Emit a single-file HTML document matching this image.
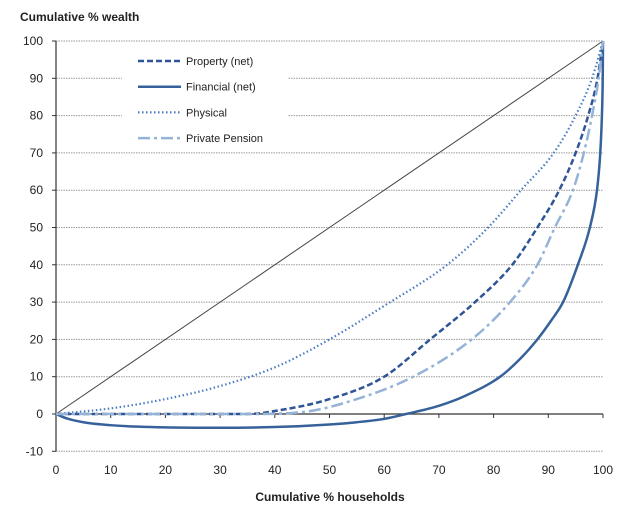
<!DOCTYPE html>
<html><head><meta charset="utf-8"><style>
body{margin:0;background:#fff}
svg text{font-family:"Liberation Sans",sans-serif;fill:#222}
</style></head><body>
<svg id="chart" width="644" height="522" viewBox="0 0 644 522" xmlns="http://www.w3.org/2000/svg">
<text x="20" y="21" font-size="12" font-weight="bold">Cumulative % wealth</text>
<text x="330" y="501" font-size="12" font-weight="bold" text-anchor="middle">Cumulative % households</text>
<g id="grid"></g>
<g id="axes"></g>
<g id="series"></g>
<g id="legend"></g>
</svg>
<script>
const xTicks=[0,10,20,30,40,50,60,70,80,90,100];
const yTicks=[-10,0,10,20,30,40,50,60,70,80,90,100];
const equalityX=[0,100];
const equalityY=[0,100];
const physicalX=[0,10,20,30,40,50,60,71.5,79,85,91,95,98,100];
const physicalY=[0,1.5,4,7.5,12.5,20,29,40,50,60,70,80,90,100];
const propertyX=[0,35,40,50,60,68.4,76.6,83.4,88,92,95,97.3,99,100];
const propertyY=[0,0,0.8,4,10,20,30,40,50,60,70,80,90,100];
const pensionX=[0,35,45,55,65.3,76,83,88,91.2,94.5,96.5,98,99.2,100];
const pensionY=[0,0,0.5,4,10,20,30,40,50,60,70,80,90,100];
const financialX=[0,2,5,10,15,20,30,40,50,55,60,64,70,75,81.2,85,88,90.5,92.7,95.4,97.6,98.9,99.5,99.8,99.95,100];
const financialY=[0,-1.2,-2.2,-3,-3.4,-3.6,-3.7,-3.5,-2.8,-2.2,-1.3,0,2.2,5,10,15,20,25,30,40,50,60,70,80,90,100];
const legendLabels=["Property (net)","Financial (net)","Physical","Private Pension"];

const NS="http://www.w3.org/2000/svg";
const X=v=>56+5.47*v, Y=v=>414-3.73*v;
function mk(t,a,p){const e=document.createElementNS(NS,t);for(const k in a)e.setAttribute(k,a[k]);p.appendChild(e);return e;}
const grid=document.getElementById('grid'),axes=document.getElementById('axes'),ser=document.getElementById('series'),leg=document.getElementById('legend');
yTicks.forEach(v=>{
  if(v!==0){const l=mk('line',{x1:X(0),x2:X(100),y1:Y(v),y2:Y(v),stroke:'#999','stroke-width':1,'stroke-dasharray':'1.5,1'},grid);
  
  }
  const tk=mk('line',{x1:X(0)-4,x2:X(0),y1:Y(v),y2:Y(v),stroke:'#333'},axes);
  
  
  const t=mk('text',{x:43,y:Y(v)+4,'font-size':12,'text-anchor':'end'},axes);t.textContent=v;
  
  
});
xTicks.forEach(v=>{
  const tk=mk('line',{x1:X(v),x2:X(v),y1:Y(0),y2:Y(0)+4,stroke:'#333'},axes);
  
  
  const t=mk('text',{x:X(v),y:474,'font-size':12,'text-anchor':'middle'},axes);t.textContent=v;
  
  
});
const ya=mk('line',{x1:X(0),x2:X(0),y1:Y(100),y2:Y(-10),stroke:'#333','stroke-width':1.2},axes);


const xa=mk('line',{x1:X(0),x2:X(100),y1:Y(0),y2:Y(0),stroke:'#333','stroke-width':1.2},axes);


// monotone cubic (Fritsch-Carlson) interpolation, sampled densely
function path(xs,ys){
  const n=xs.length;
  if(n<3) return `M${X(xs[0])},${Y(ys[0])} L${X(xs[n-1])},${Y(ys[n-1])}`;
  const d=[],m=new Array(n);
  for(let i=0;i<n-1;i++)d.push((ys[i+1]-ys[i])/(xs[i+1]-xs[i]));
  m[0]=d[0];m[n-1]=d[n-2];
  for(let i=1;i<n-1;i++){m[i]=(d[i-1]*d[i]<=0)?0:(d[i-1]+d[i])/2;}
  for(let i=0;i<n-1;i++){if(d[i]===0){m[i]=0;m[i+1]=0;continue;}
    const a=m[i]/d[i],b=m[i+1]/d[i],s=a*a+b*b;
    if(s>9){const t=3/Math.sqrt(s);m[i]=t*a*d[i];m[i+1]=t*b*d[i];}}
  let out=`M${X(xs[0])},${Y(ys[0])}`;
  for(let i=0;i<n-1;i++){const h=xs[i+1]-xs[i];
    out+=` C${X(xs[i]+h/3)},${Y(ys[i]+m[i]*h/3)} ${X(xs[i+1]-h/3)},${Y(ys[i+1]-m[i+1]*h/3)} ${X(xs[i+1])},${Y(ys[i+1])}`;}
  return out;}
const eq=mk('path',{d:path(equalityX,equalityY),stroke:'#444',fill:'none','stroke-width':1},ser);


const styles=[
 {xs:propertyX,ys:propertyY,c:'#2f5597',w:2.5,da:'6,3',n:'property-line'},
 {xs:financialX,ys:financialY,c:'#36619a',w:2.5,da:'',n:'financial-line'},
 {xs:physicalX,ys:physicalY,c:'#4a7cc0',w:2.2,da:'1.5,2.5',n:'physical-line'},
 {xs:pensionX,ys:pensionY,c:'#95b3d7',w:2.5,da:'12,4,3,4',n:'pension-line'}];
styles.forEach(s=>{const e=mk('path',{d:path(s.xs,s.ys),stroke:s.c,fill:'none','stroke-width':s.w,'stroke-dasharray':s.da},ser);
  
  });
const bg=mk('rect',{x:122,y:48,width:166,height:104,fill:'#fff'},leg);


styles.forEach((s,i)=>{const y=61+i*25.7;
  const l=mk('line',{x1:138,x2:181,y1:y,y2:y,stroke:s.c,'stroke-width':s.w,'stroke-dasharray':s.da},leg);
  
  
  const t=mk('text',{x:186,y:y+4,'font-size':11},leg);t.textContent=legendLabels[i];
  
  });
</script>
</body></html>
